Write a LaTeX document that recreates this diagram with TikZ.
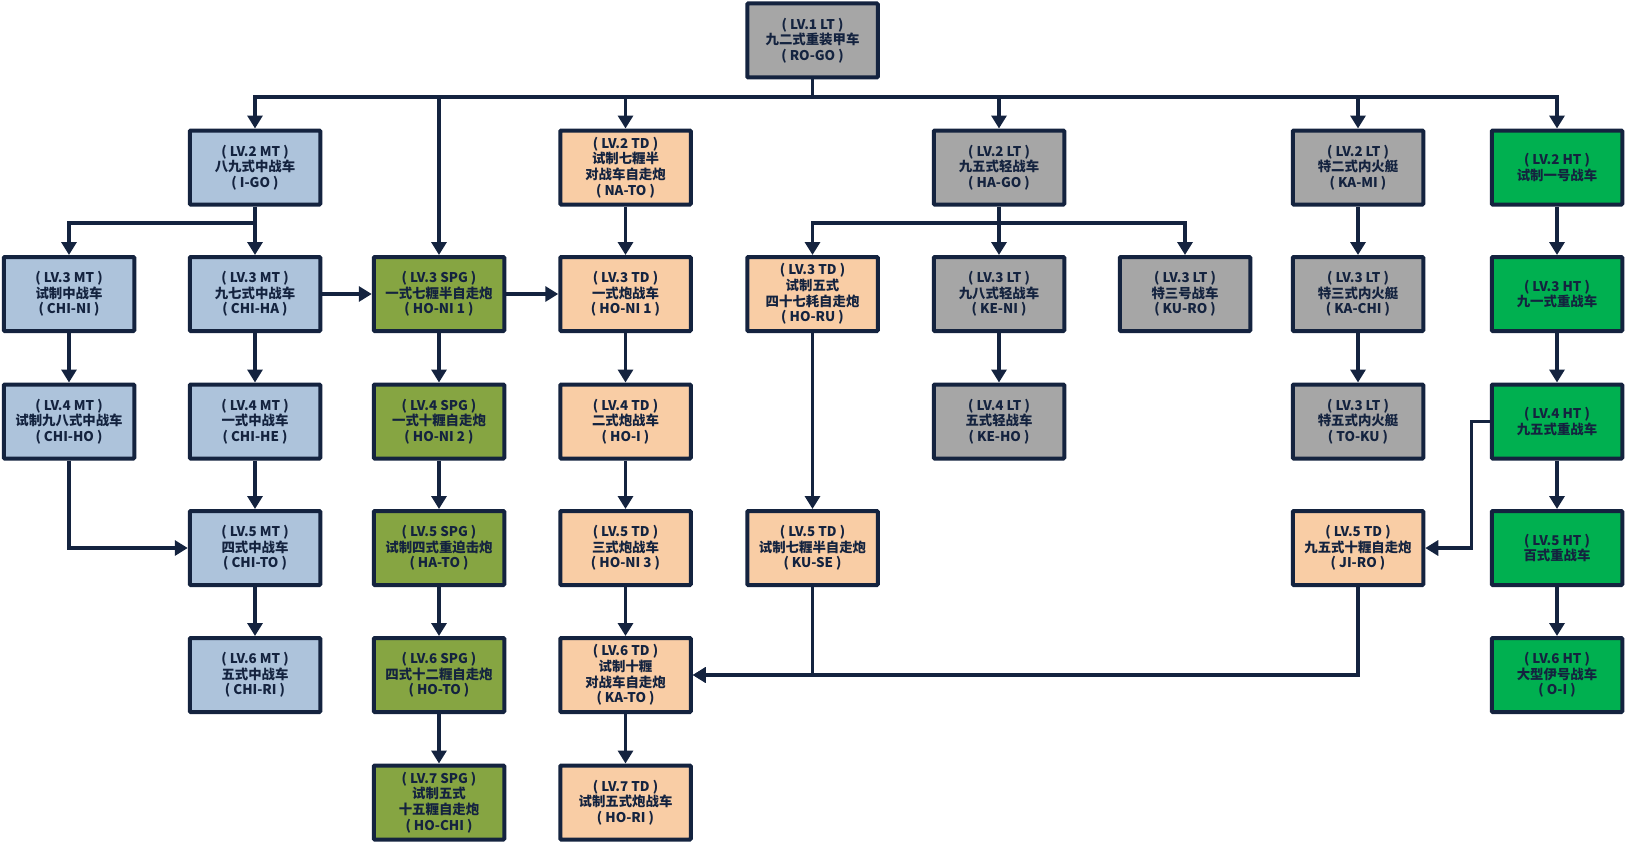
\documentclass[tikz,border=0pt]{standalone}
\usepackage{fontspec}
\usepackage{tikz}
\usepackage{xcolor}
\usetikzlibrary{arrows.meta,shapes}
\newfontfamily\cjk{Noto Sans CJK SC}
\definecolor{navy}{HTML}{14233F}
\definecolor{mtblue}{HTML}{ADC3DB}
\definecolor{spggreen}{HTML}{86A542}
\definecolor{tdpeach}{HTML}{F9CDA5}
\definecolor{ltgrey}{HTML}{A6A6A6}
\definecolor{htgreen}{HTML}{00B050}
\tikzset{
tank/.style={rectangle,draw=navy,line width=4pt,rounded corners=1pt,minimum width=130.5pt,minimum height=74pt,inner sep=0pt,align=center,text=navy,font=\cjk\bfseries\fontsize{13.4}{15.7}\selectfont},
mt/.style={tank,fill=mtblue},
spg/.style={tank,fill=spggreen},
td/.style={tank,fill=tdpeach},
lt/.style={tank,fill=ltgrey},
ht/.style={tank,fill=htgreen},
link/.style={draw=navy,line width=3.3pt,-{Triangle[width=15pt,length=13pt]}},
bar/.style={draw=navy,line width=3.3pt}
}

\begin{document}
\begin{tikzpicture}[x=1pt,y=-1pt]
\useasboundingbox (0,0) rectangle (1626,843);
\node[lt](rogo) at (812.5,40.5){( LV.1 LT )\\九二式重装甲车\\( RO-GO )};
\node[mt](igo) at (255,167.5){( LV.2 MT )\\八九式中战车\\( I-GO )};
\node[td](nato) at (625.5,167.5){( LV.2 TD )\\试制七糎半\\对战车自走炮\\( NA-TO )};
\node[lt](hago) at (999,167.5){( LV.2 LT )\\九五式轻战车\\( HA-GO )};
\node[lt](kami) at (1358,167.5){( LV.2 LT )\\特二式内火艇\\( KA-MI )};
\node[ht](ht2) at (1557,167.5){( LV.2 HT )\\试制一号战车};
\node[mt](chini) at (69,294){( LV.3 MT )\\试制中战车\\( CHI-NI )};
\node[mt](chiha) at (255,294){( LV.3 MT )\\九七式中战车\\( CHI-HA )};
\node[spg](honia) at (439,294){( LV.3 SPG )\\一式七糎半自走炮\\( HO-NI 1 )};
\node[td](honib) at (625.5,294){( LV.3 TD )\\一式炮战车\\( HO-NI 1 )};
\node[td](horu) at (812.5,294){( LV.3 TD )\\试制五式\\四十七耗自走炮\\( HO-RU )};
\node[lt](keni) at (999,294){( LV.3 LT )\\九八式轻战车\\( KE-NI )};
\node[lt](kuro) at (1185,294){( LV.3 LT )\\特三号战车\\( KU-RO )};
\node[lt](kachi) at (1358,294){( LV.3 LT )\\特三式内火艇\\( KA-CHI )};
\node[ht](ht3) at (1557,294){( LV.3 HT )\\九一式重战车};
\node[mt](chiho) at (69,421.5){( LV.4 MT )\\试制九八式中战车\\( CHI-HO )};
\node[mt](chihe) at (255,421.5){( LV.4 MT )\\一式中战车\\( CHI-HE )};
\node[spg](honi2) at (439,421.5){( LV.4 SPG )\\一式十糎自走炮\\( HO-NI 2 )};
\node[td](hoi) at (625.5,421.5){( LV.4 TD )\\二式炮战车\\( HO-I )};
\node[lt](keho) at (999,421.5){( LV.4 LT )\\五式轻战车\\( KE-HO )};
\node[lt](toku) at (1358,421.5){( LV.3 LT )\\特五式内火艇\\( TO-KU )};
\node[ht](ht4) at (1557,421.5){( LV.4 HT )\\九五式重战车};
\node[mt](chito) at (255,548){( LV.5 MT )\\四式中战车\\( CHI-TO )};
\node[spg](hato) at (439,548){( LV.5 SPG )\\试制四式重迫击炮\\( HA-TO )};
\node[td](honi3) at (625.5,548){( LV.5 TD )\\三式炮战车\\( HO-NI 3 )};
\node[td](kuse) at (812.5,548){( LV.5 TD )\\试制七糎半自走炮\\( KU-SE )};
\node[td](jiro) at (1358,548){( LV.5 TD )\\九五式十糎自走炮\\( JI-RO )};
\node[ht](ht5) at (1557,548){( LV.5 HT )\\百式重战车};
\node[mt](chiri) at (255,675){( LV.6 MT )\\五式中战车\\( CHI-RI )};
\node[spg](hoto) at (439,675){( LV.6 SPG )\\四式十二糎自走炮\\( HO-TO )};
\node[td](kato) at (625.5,675){( LV.6 TD )\\试制十糎\\对战车自走炮\\( KA-TO )};
\node[ht](oi) at (1557,675){( LV.6 HT )\\大型伊号战车\\( O-I )};
\node[spg](hochi) at (439,802.5){( LV.7 SPG )\\试制五式\\十五糎自走炮\\( HO-CHI )};
\node[td](hori) at (625.5,802.5){( LV.7 TD )\\试制五式炮战车\\( HO-RI )};
\coordinate (bus) at (812.5,97);
\coordinate (igobr) at (255,223);
\coordinate (hagobr) at (999,223);
\draw[bar](rogo)--(bus);
\draw[link](bus)-|(igo);
\draw[link](bus)-|(honia);
\draw[link](bus)-|(nato);
\draw[link](bus)-|(hago);
\draw[link](bus)-|(kami);
\draw[link](bus)-|(ht2);
\draw[link](igo)--(chiha);
\draw[link](igobr)-|(chini);
\draw[link](hago)--(keni);
\draw[link](hagobr)-|(horu);
\draw[link](hagobr)-|(kuro);
\draw[link](chiha)--(honia);
\draw[link](honia)--(honib);
\draw[link](nato)--(honib);
\draw[link](kami)--(kachi);
\draw[link](ht2)--(ht3);
\draw[link](chini)--(chiho);
\draw[link](chiha)--(chihe);
\draw[link](honia)--(honi2);
\draw[link](honib)--(hoi);
\draw[link](keni)--(keho);
\draw[link](kachi)--(toku);
\draw[link](ht3)--(ht4);
\draw[link](chiho)|-(chito);
\draw[link](chihe)--(chito);
\draw[link](honi2)--(hato);
\draw[link](hoi)--(honi3);
\draw[link](horu)--(kuse);
\draw[link](ht4.west)--++(-18,0)|-(jiro);
\draw[link](ht4)--(ht5);
\draw[link](chito)--(chiri);
\draw[link](hato)--(hoto);
\draw[link](honi3)--(kato);
\draw[link](kuse)|-(kato);
\draw[link](jiro)|-(kato);
\draw[link](ht5)--(oi);
\draw[link](hoto)--(hochi);
\draw[link](kato)--(hori);
\end{tikzpicture}
\end{document}
